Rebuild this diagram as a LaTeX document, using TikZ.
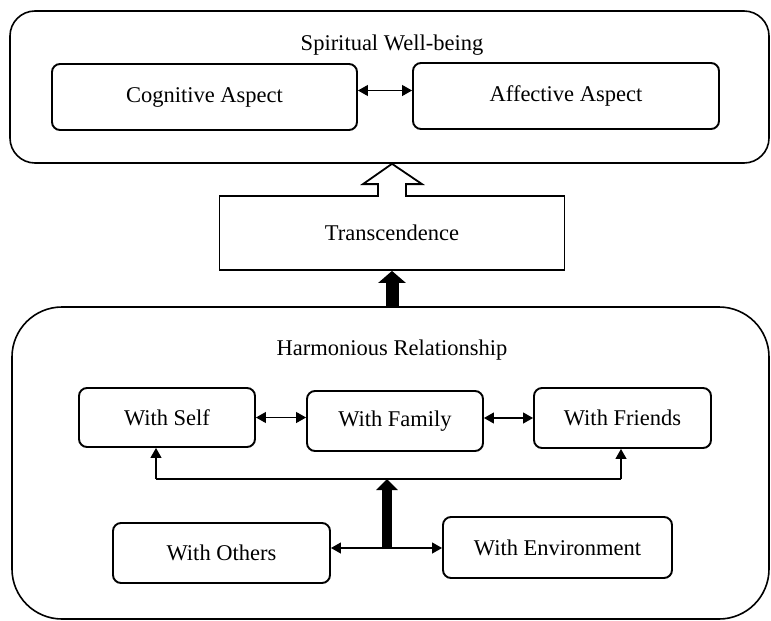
\documentclass[tikz,border=0pt]{standalone}
\usepackage{fontspec}
\setmainfont{Liberation Serif}
\usetikzlibrary{arrows.meta,calc}
\begin{document}
\begin{tikzpicture}[x=1pt,y=-1pt,
  txt/.style={font=\fontsize{22.5}{26}\selectfont, inner sep=0pt},
  outerbox/.style={draw, line width=1.6pt, rounded corners=#1, inner sep=0pt},
  inbox/.style={draw, line width=1.9pt, rounded corners=8pt, inner sep=0pt, font=\fontsize{22.5}{26}\selectfont},
  plainbox/.style={draw, line width=1.8pt, inner sep=0pt, font=\fontsize{22.5}{26}\selectfont},
  link/.style={line width=1.1pt, {Triangle[length=10pt,width=11pt]}-{Triangle[length=10pt,width=11pt]}},
  uplink/.style={line width=1.1pt, -{Triangle[length=10pt,width=11pt]}},
  plainline/.style={line width=1.1pt},
  solidarrow/.style n args={3}{line width=#1, -{Triangle[length=#2,width=#3]}},
]
\useasboundingbox (0,0) rectangle (771,621);

% Spiritual Well-being
\node[outerbox=25pt, minimum width=759pt, minimum height=152pt] (spirit) at (389.5,87) {};
\node[txt] (spirittitle) at (392,45) {Spiritual Well-being};
\node[inbox, minimum width=305pt, minimum height=66pt] (cog) at (204.5,97) {Cognitive Aspect};
\node[inbox, minimum width=306pt, minimum height=66pt] (aff) at (566,96) {Affective Aspect};
\draw[link] ([yshift=6.5pt]cog.east) -- ([yshift=6.5pt]cog.east -| aff.west);

% Transcendence
\node[plainbox, minimum width=345pt, minimum height=74pt] (trans) at (392,233) {Transcendence};
\fill[white] ($(trans.north)+(-13,-2)$) rectangle ($(trans.north)+(13,2)$);
\draw[line width=1.8pt, line join=miter]
  ($(trans.north)+(-14,1)$) -- ($(trans.north)+(-14,-11)$) -- ($(trans.north)+(-29,-11)$)
  -- (trans.north |- spirit.south) -- ($(trans.north)+(30,-11)$) -- ($(trans.north)+(14,-11)$)
  -- ($(trans.north)+(14,1)$);

% Harmonious Relationship
\node[outerbox=50pt, minimum width=757pt, minimum height=312pt] (harm) at (390.5,463) {};
\node[txt] (harmtitle) at (392,350) {Harmonious Relationship};
\draw[solidarrow={13pt}{12pt}{27pt}] (trans.south |- harm.north) -- (trans.south);

\node[inbox, minimum width=176pt, minimum height=59pt] (self) at (167,417.5) {With Self};
\node[inbox, minimum width=176pt, minimum height=60pt] (family) at (395,421) {With Family};
\node[inbox, minimum width=177pt, minimum height=60pt] (friends) at (622.5,418) {With Friends};
\node[inbox, minimum width=217pt, minimum height=60pt] (others) at (221.5,553) {With Others};
\node[inbox, minimum width=229pt, minimum height=61pt] (env) at (557.5,547.5) {With Environment};

\draw[link] (self.east) -- (self.east -| family.west);
\draw[link] (friends.west -| family.east) -- (friends.west);

\coordinate (bl) at (156,479);
\coordinate (br) at (621,479);
\coordinate (jn) at (387,548);
\draw[plainline] (bl) -- (br);
\draw[uplink] (bl) -- (bl |- self.south);
\draw[uplink] (br) -- (br |- friends.south);
\draw[uplink] (jn) -- (jn -| others.east);
\draw[uplink] (jn) -- (jn -| env.west);
\draw[solidarrow={10pt}{11pt}{21pt}] ([yshift=-1pt]jn) -- (jn |- bl);
\end{tikzpicture}
\end{document}
